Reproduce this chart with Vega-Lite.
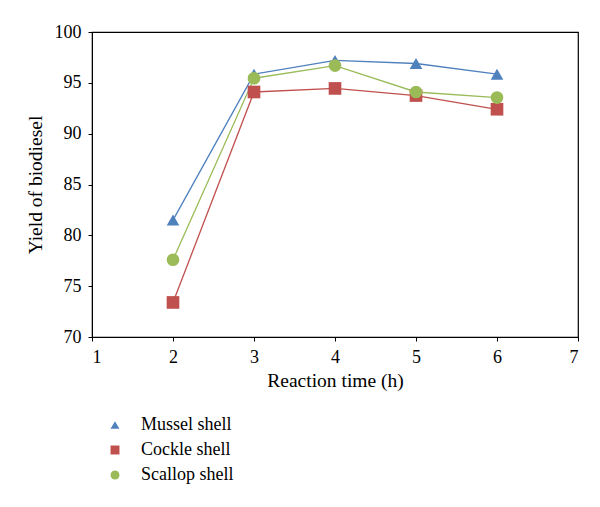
{
  "$schema": "https://vega.github.io/schema/vega-lite/v6.json",
  "width": 486,
  "height": 305,
  "autosize": "none",
  "padding": {"left": 92, "top": 32, "right": 22, "bottom": 170},
  "data": {
    "values": [
      {"time": 2, "yield": 81.5, "shell": "Mussel shell"},
      {"time": 3, "yield": 95.85, "shell": "Mussel shell"},
      {"time": 4, "yield": 97.2, "shell": "Mussel shell"},
      {"time": 5, "yield": 96.9, "shell": "Mussel shell"},
      {"time": 6, "yield": 95.85, "shell": "Mussel shell"},
      {"time": 2, "yield": 73.4, "shell": "Cockle shell"},
      {"time": 3, "yield": 94.1, "shell": "Cockle shell"},
      {"time": 4, "yield": 94.45, "shell": "Cockle shell"},
      {"time": 5, "yield": 93.75, "shell": "Cockle shell"},
      {"time": 6, "yield": 92.4, "shell": "Cockle shell"},
      {"time": 2, "yield": 77.6, "shell": "Scallop shell"},
      {"time": 3, "yield": 95.45, "shell": "Scallop shell"},
      {"time": 4, "yield": 96.7, "shell": "Scallop shell"},
      {"time": 5, "yield": 94.1, "shell": "Scallop shell"},
      {"time": 6, "yield": 93.55, "shell": "Scallop shell"}
    ]
  },
  "encoding": {
    "x": {
      "field": "time",
      "type": "quantitative",
      "title": "Reaction time (h)",
      "scale": {"domain": [1, 7], "nice": false, "zero": false},
      "axis": {"values": [1, 2, 3, 4, 5, 6, 7], "format": "d", "labelPadding": 7, "titlePadding": 5}
    },
    "y": {
      "field": "yield",
      "type": "quantitative",
      "title": "Yield of biodiesel",
      "scale": {"domain": [70, 100], "nice": false, "zero": false},
      "axis": {"values": [70, 75, 80, 85, 90, 95, 100], "labelPadding": 7, "titlePadding": 9}
    },
    "color": {
      "field": "shell",
      "type": "nominal",
      "sort": ["Mussel shell", "Cockle shell", "Scallop shell"],
      "title": null,
      "scale": {
        "domain": ["Mussel shell", "Cockle shell", "Scallop shell"],
        "range": ["#4F81BD", "#C0504D", "#9BBB59"]
      },
      "legend": {
        "orient": "none",
        "legendX": 14,
        "legendY": 384,
        "padding": 0,
        "symbolSize": 80,
        "symbolStrokeWidth": 0,
        "symbolOpacity": 1,
        "labelOffset": 17,
        "rowPadding": 7,
        "labelFont": "Liberation Serif",
        "labelFontSize": 18,
        "labelColor": "#000"
      }
    }
  },
  "layer": [
    {
      "mark": {"type": "line", "strokeWidth": 1.3}
    },
    {
      "mark": {"type": "point", "filled": true, "opacity": 1, "size": 160},
      "encoding": {
        "shape": {
          "field": "shell",
          "type": "nominal",
          "scale": {
            "domain": ["Mussel shell", "Cockle shell", "Scallop shell"],
            "range": ["triangle-up", "square", "circle"]
          },
          "legend": null
        }
      }
    }
  ],
  "config": {
    "view": {"stroke": "#000", "strokeWidth": 1.2},
    "axis": {
      "grid": false,
      "domainColor": "#000",
      "tickColor": "#000",
      "tickSize": 4,
      "labelFont": "Liberation Serif",
      "labelFontSize": 18,
      "labelColor": "#000",
      "titleFont": "Liberation Serif",
      "titleFontSize": 19.5,
      "titleFontWeight": "normal",
      "titleColor": "#000"
    }
  }
}
